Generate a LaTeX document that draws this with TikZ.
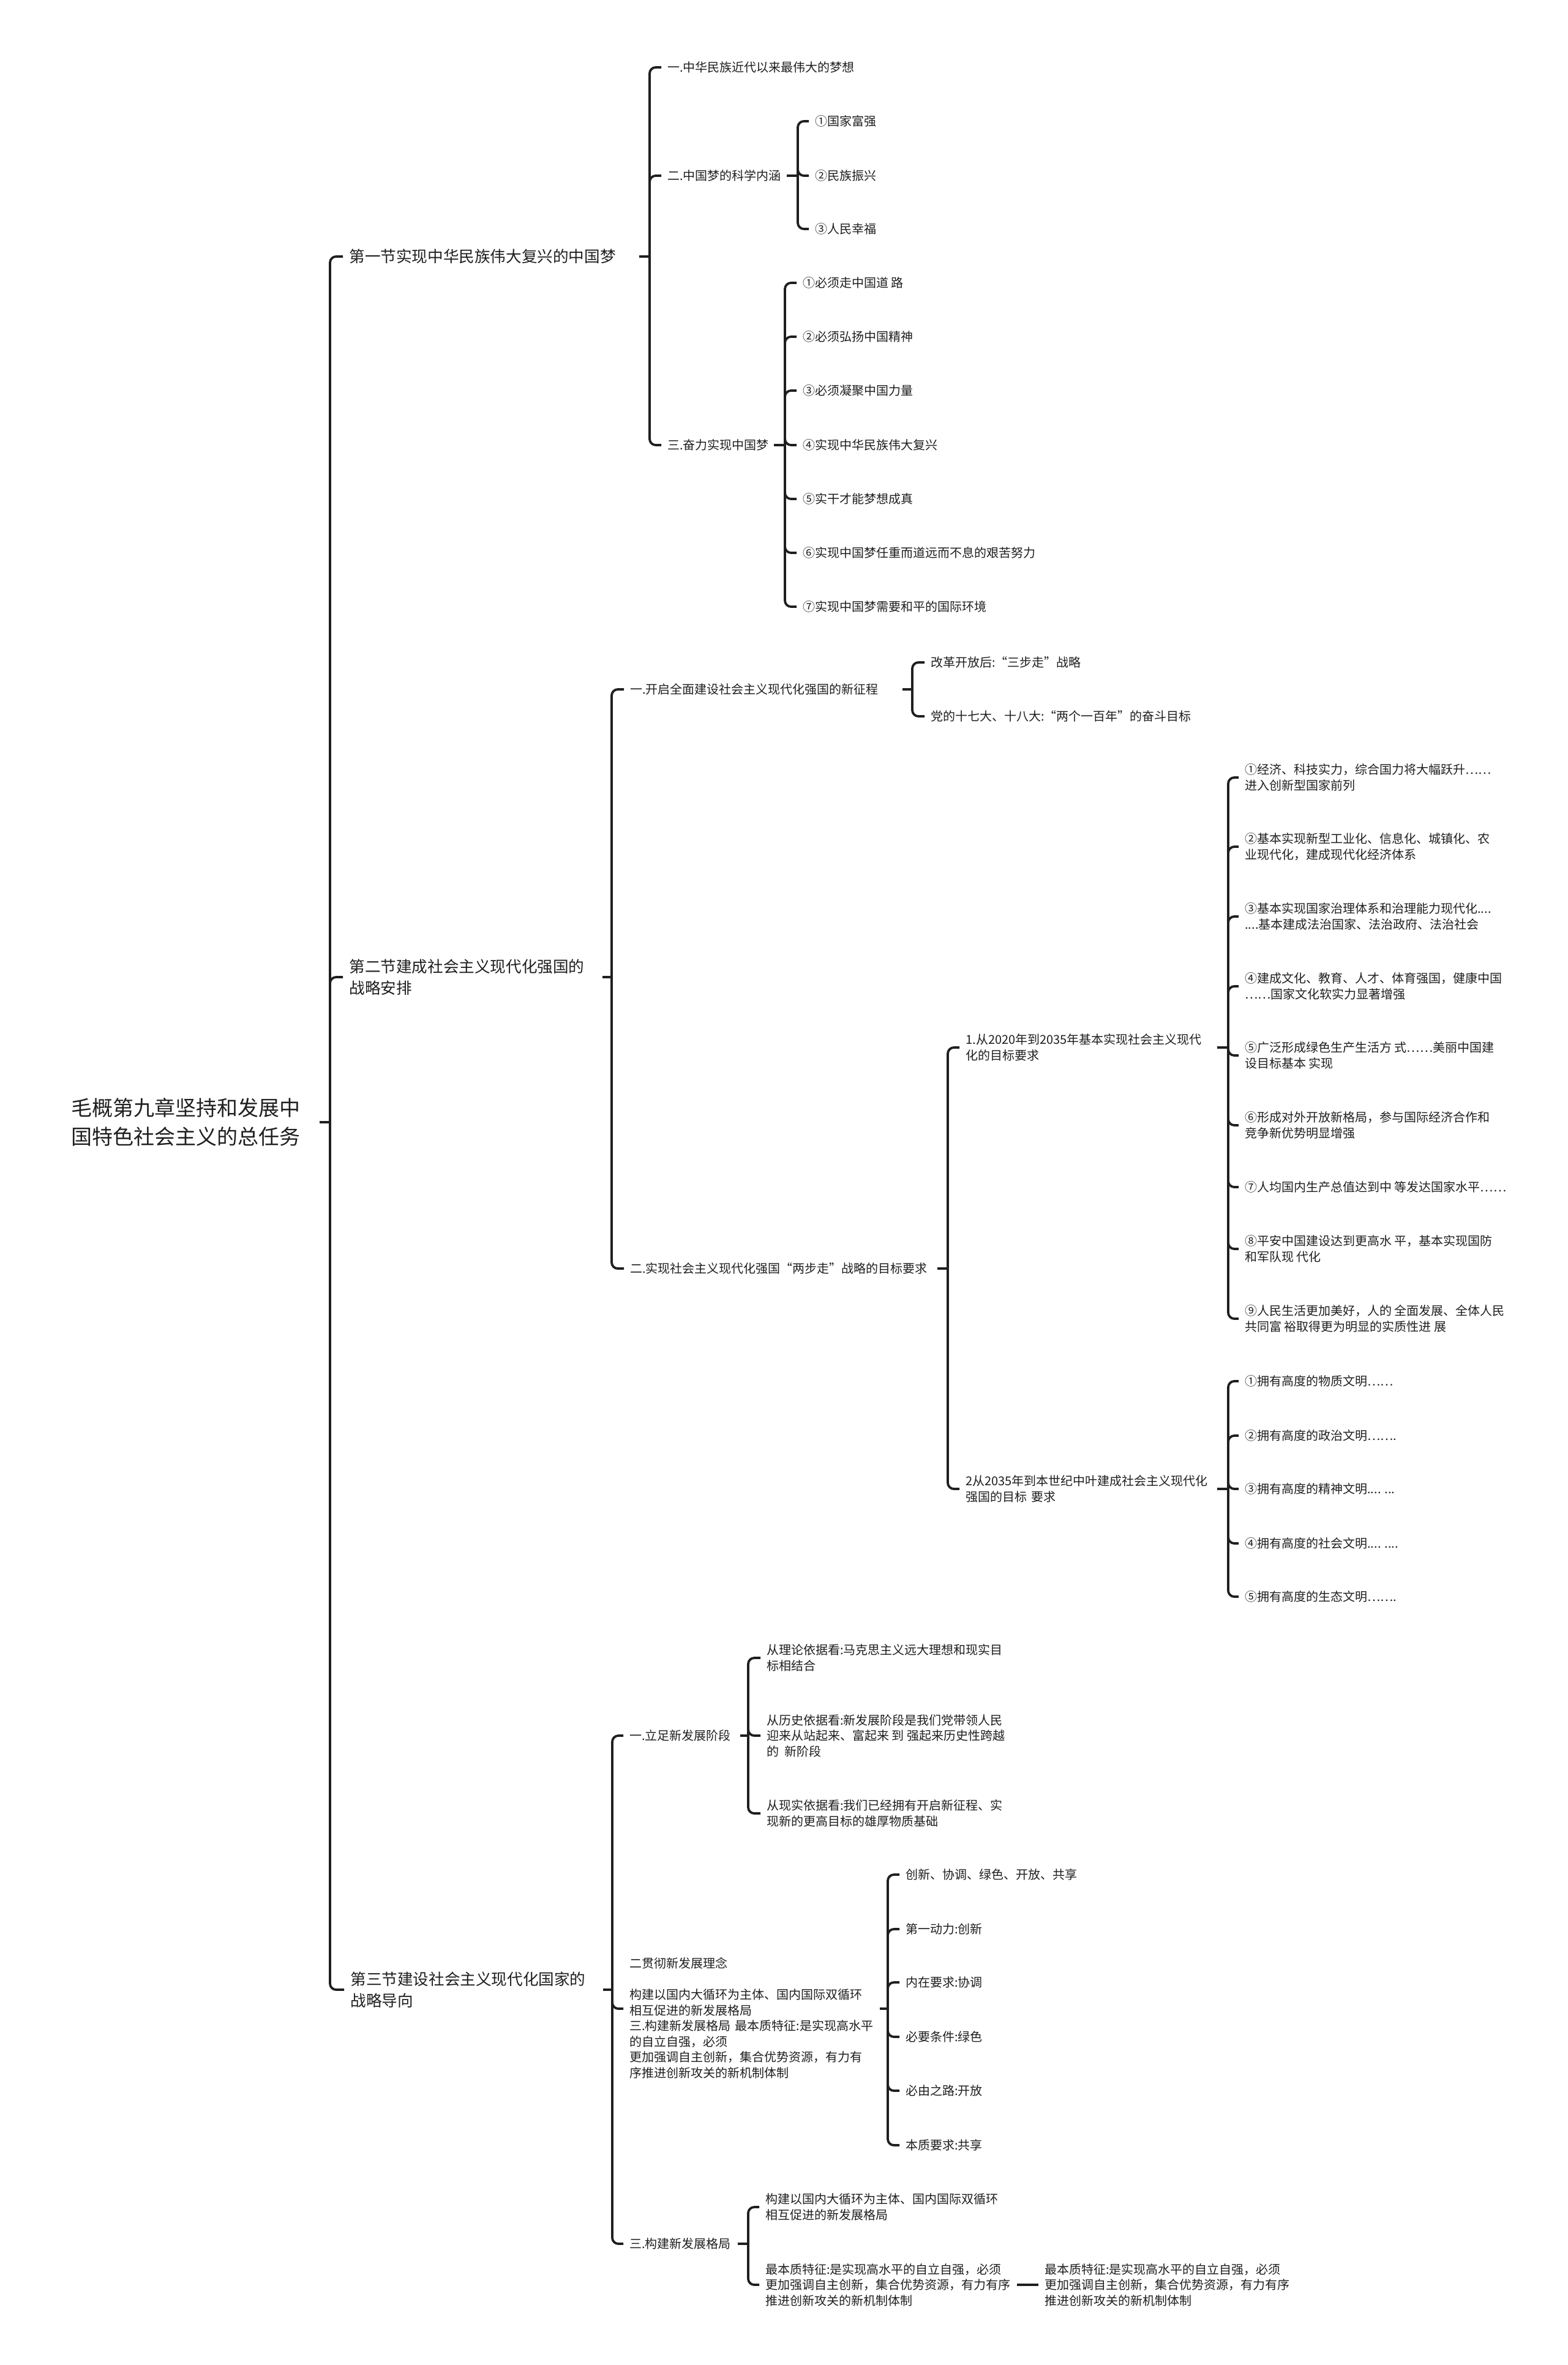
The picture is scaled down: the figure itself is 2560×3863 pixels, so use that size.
\documentclass[tikz,border=0pt]{standalone}
\usepackage{fontspec}
\setmainfont{Noto Sans CJK SC}
\begin{document}
\begin{tikzpicture}[x=0.5pt,y=-0.5pt]
\tikzset{
  conn/.style={draw=black!88, line width=1.9pt, rounded corners=5pt},
  basenode/.style={anchor=west, inner xsep=5pt, inner ysep=0pt, align=left, text=black!88},
  small/.style={basenode, font=\fontsize{10pt}{12.75pt}\selectfont},
  sec/.style={basenode, font=\fontsize{12.8pt}{17.5pt}\selectfont},
  rootst/.style={basenode, font=\fontsize{17pt}{23.5pt}\selectfont},
}
\fill[white] (0,0) rectangle (2560,3863);
\useasboundingbox (0,0) rectangle (2560,3863);

% root
\node[rootst, text width=197.5pt] (root) at (106,1833) {毛概第九章坚持和发展中\\国特色社会主义的总任务};
\coordinate (T0) at (539,1833);
\draw[conn] (root.east) -- (T0);

% sections
\node[sec, text width=231.5pt] (s1) at (560,419) {第一节实现中华民族伟大复兴的中国梦};
\node[sec, text width=201.5pt] (s2) at (560,1596) {第二节建成社会主义现代化强国的\\战略安排};
\node[sec, text width=201pt] (s3) at (562,3250) {第三节建设社会主义现代化国家的\\战略导向};
\foreach \n in {s1,s2,s3} \draw[conn] (T0) |- (\n.west);

% ---- section 1
\coordinate (T1) at (1061,419);
\draw[conn] (s1.east) -- (T1);
\node[small] (a1) at (1080,110) {一.中华民族近代以来最伟大的梦想};
\node[small, text width=92pt] (a2) at (1080,287) {二.中国梦的科学内涵};
\node[small, text width=81.5pt] (a3) at (1080,727) {三.奋力实现中国梦};
\foreach \n in {a1,a2,a3} \draw[conn] (T1) |- (\n.west);

\coordinate (T2) at (1303,287);
\draw[conn] (a2.east) -- (T2);
\node[small] (a21) at (1321,198) {①国家富强};
\node[small] (a22) at (1321,287) {②民族振兴};
\node[small] (a23) at (1321,374) {③人民幸福};
\foreach \n in {a21,a22,a23} \draw[conn] (T2) |- (\n.west);

\coordinate (T3) at (1282,727);
\draw[conn] (a3.east) -- (T3);
\node[small] (a31) at (1301,462) {①必须走中国道 路};
\node[small] (a32) at (1301,550) {②必须弘扬中国精神};
\node[small] (a33) at (1301,638) {③必须凝聚中国力量};
\node[small] (a34) at (1301,727) {④实现中华民族伟大复兴};
\node[small] (a35) at (1301,815) {⑤实干才能梦想成真};
\node[small] (a36) at (1301,903) {⑥实现中国梦任重而道远而不息的艰苦努力};
\node[small] (a37) at (1301,991) {⑦实现中国梦需要和平的国际环境};
\foreach \n in {a31,a32,a33,a34,a35,a36,a37} \draw[conn] (T3) |- (\n.west);

% ---- section 2
\coordinate (T4) at (999,1596);
\draw[conn] (s2.east) -- (T4);
\node[small, text width=217pt] (b1) at (1019,1126) {一.开启全面建设社会主义现代化强国的新征程};
\node[small, text width=245.5pt] (b2) at (1019,2072) {二.实现社会主义现代化强国“两步走”战略的目标要求};
\foreach \n in {b1,b2} \draw[conn] (T4) |- (\n.west);

\coordinate (T5) at (1490,1126);
\draw[conn] (b1.east) -- (T5);
\node[small] (b11) at (1510,1082) {改革开放后:“三步走”战略};
\node[small] (b12) at (1510,1170) {党的十七大、十八大:“两个一百年”的奋斗目标};
\foreach \n in {b11,b12} \draw[conn] (T5) |- (\n.west);

\coordinate (T6) at (1548,2072);
\draw[conn] (b2.east) -- (T6);
\node[small, text width=200pt] (c1) at (1567,1711) {1.从2020年到2035年基本实现社会主义现代\\化的目标要求};
\node[small, text width=200pt] (c2) at (1567,2432) {2从2035年到本世纪中叶建成社会主义现代化\\强国的目标 要求};
\foreach \n in {c1,c2} \draw[conn] (T6) |- (\n.west);

\coordinate (T7) at (2006,1711);
\draw[conn] (c1.east) -- (T7);
\node[small] (c11) at (2023,1270) {①经济、科技实力，综合国力将大幅跃升……\\进入创新型国家前列};
\node[small] (c12) at (2023,1383) {②基本实现新型工业化、信息化、城镇化、农\\业现代化，建成现代化经济体系};
\node[small] (c13) at (2023,1497) {③基本实现国家治理体系和治理能力现代化....\\....基本建成法治国家、法治政府、法治社会};
\node[small] (c14) at (2023,1611) {④建成文化、教育、人才、体育强国，健康中国\\……国家文化软实力显著增强};
\node[small] (c15) at (2023,1724) {⑤广泛形成绿色生产生活方 式……美丽中国建\\设目标基本 实现};
\node[small] (c16) at (2023,1838) {⑥形成对外开放新格局，参与国际经济合作和\\竞争新优势明显增强};
\node[small] (c17) at (2023,1939) {⑦人均国内生产总值达到中 等发达国家水平……};
\node[small] (c18) at (2023,2040) {⑧平安中国建设达到更高水 平，基本实现国防\\和军队现 代化};
\node[small] (c19) at (2023,2154) {⑨人民生活更加美好，人的 全面发展、全体人民\\共同富 裕取得更为明显的实质性进 展};
\foreach \n in {c11,c12,c13,c14,c15,c16,c17,c18,c19} \draw[conn] (T7) |- (\n.west);

\coordinate (T8) at (2006,2432);
\draw[conn] (c2.east) -- (T8);
\node[small] (c21) at (2023,2256) {①拥有高度的物质文明……};
\node[small] (c22) at (2023,2345) {②拥有高度的政治文明…….};
\node[small] (c23) at (2023,2432) {③拥有高度的精神文明.... ...};
\node[small] (c24) at (2023,2521) {④拥有高度的社会文明.... ....};
\node[small] (c25) at (2023,2608) {⑤拥有高度的生态文明…….};
\foreach \n in {c21,c22,c23,c24,c25} \draw[conn] (T8) |- (\n.west);

% ---- section 3
\coordinate (T9) at (1000,3250);
\draw[conn] (s3.east) -- (T9);
\node[small, text width=85pt] (d1) at (1018,2835) {一.立足新发展阶段};
\node[small, text width=199pt] (d2) at (1018,3296) {二贯彻新发展理念\\[12.75pt]构建以国内大循环为主体、国内国际双循环\\相互促进的新发展格局\\三.构建新发展格局~最本质特征:是实现高水平\\的自立自强，必须\\更加强调自主创新，集合优势资源，有力有\\序推进创新攻关的新机制体制};
\node[small, text width=83pt] (d3) at (1018,3665) {三.构建新发展格局};
\coordinate (T11) at (1450,3281);
\draw[conn] (T9) |- (d1.west);
\draw[conn] (T9) |- (d2.west |- T11);
\draw[conn] (T9) |- (d3.west);

\coordinate (T10) at (1222,2835);
\draw[conn] (d1.east) -- (T10);
\node[small] (e1) at (1242,2708) {从理论依据看:马克思主义远大理想和现实目\\标相结合};
\node[small] (e2) at (1242,2835) {从历史依据看:新发展阶段是我们党带领人民\\迎来从站起来、富起来 到 强起来历史性跨越\\的 \ 新阶段};
\node[small] (e3) at (1242,2962) {从现实依据看:我们已经拥有开启新征程、实\\现新的更高目标的雄厚物质基础};
\foreach \n in {e1,e2,e3} \draw[conn] (T10) |- (\n.west);

\draw[conn] (d2.east |- T11) -- (T11);
\node[small] (h1) at (1469,3062) {创新、协调、绿色、开放、共享};
\node[small] (h2) at (1469,3151) {第一动力:创新};
\node[small] (h3) at (1469,3238) {内在要求:协调};
\node[small] (h4) at (1469,3327) {必要条件:绿色};
\node[small] (h5) at (1469,3415) {必由之路:开放};
\node[small] (h6) at (1469,3504) {本质要求:共享};
\foreach \n in {h1,h2,h3,h4,h5,h6} \draw[conn] (T11) |- (\n.west);

\coordinate (T12) at (1222,3665);
\draw[conn] (d3.east) -- (T12);
\node[small] (f1) at (1240,3605) {构建以国内大循环为主体、国内国际双循环\\相互促进的新发展格局};
\node[small, text width=200pt] (f2) at (1240,3732) {最本质特征:是实现高水平的自立自强，必须\\更加强调自主创新，集合优势资源，有力有序\\推进创新攻关的新机制体制};
\foreach \n in {f1,f2} \draw[conn] (T12) |- (\n.west);
\node[small] (g1) at (1696,3732) {最本质特征:是实现高水平的自立自强，必须\\更加强调自主创新，集合优势资源，有力有序\\推进创新攻关的新机制体制};
\draw[conn] (f2.east) -- (g1.west);
\end{tikzpicture}
\end{document}
